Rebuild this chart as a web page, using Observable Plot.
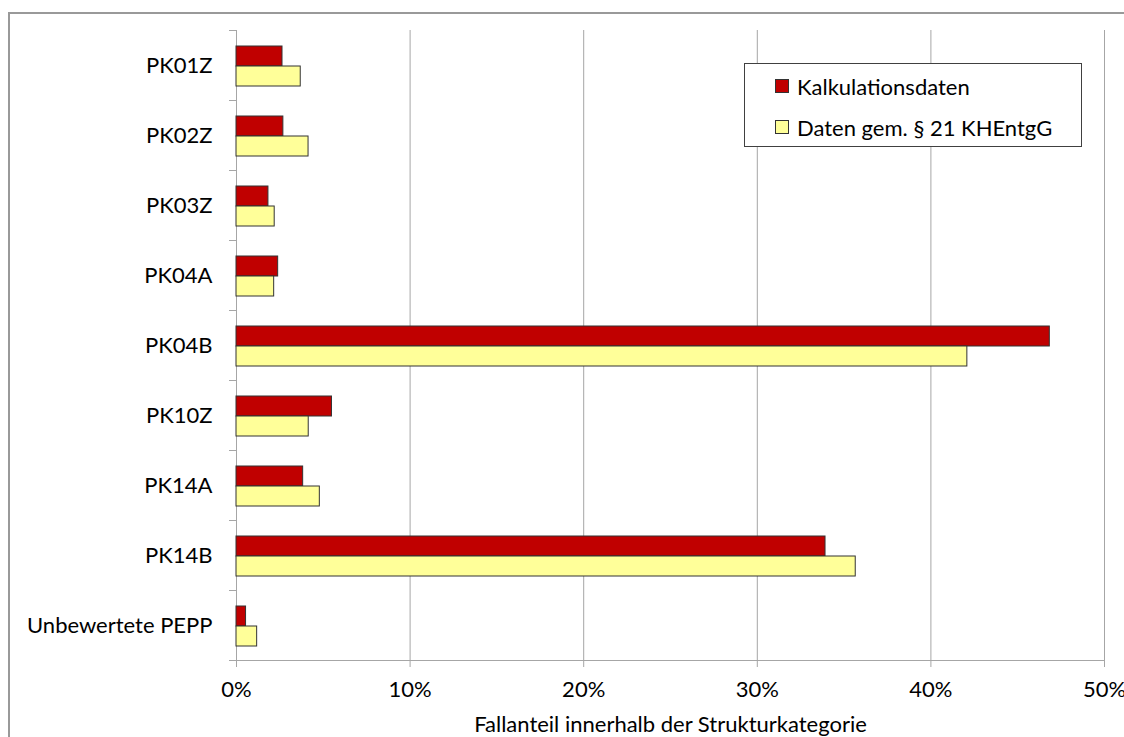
<!DOCTYPE html>
<html>
<head>
<meta charset="utf-8">
<script src="https://cdn.jsdelivr.net/npm/d3@7"></script>
<script src="https://cdn.jsdelivr.net/npm/@observablehq/plot@0.6"></script>
<style>
  html, body { margin: 0; padding: 0; background: #fff; }
  #wrap { position: relative; width: 1124px; height: 737px; overflow: hidden; font-family: Lato, "Open Sans", sans-serif; }
  #border { position: absolute; left: 8px; top: 12px; width: 1140px; height: 760px; border: 2px solid #999; box-sizing: border-box; }
  #chart { position: absolute; left: 0; top: 0; }
  #legend { position: absolute; left: 744px; top: 63px; width: 338px; height: 84px; box-sizing: border-box;
            border: 1px solid #404040; background: #fff; }
  .item { position: absolute; left: 30px; display: flex; align-items: center; height: 22px; font-size: 22px; color: #000; }
  .sw { width: 14px; height: 14px; box-sizing: border-box; border: 1px solid #333; margin-right: 8px; }
</style>
</head>
<body>
<div id="wrap">
  <div id="border"></div>
  <div id="chart"></div>
  <div id="legend"></div>
</div>
<script>
const categories = ["PK01Z", "PK02Z", "PK03Z", "PK04A", "PK04B", "PK10Z", "PK14A", "PK14B", "Unbewertete PEPP"];
const kalkulationsdaten = [2.65, 2.7, 1.84, 2.4, 46.85, 5.5, 3.84, 33.93, 0.55];
const khentggDaten = [3.7, 4.15, 2.2, 2.17, 42.1, 4.16, 4.8, 35.67, 1.19];
const xTicks = [0, 10, 20, 30, 40, 50];
const seriesNames = ["Kalkulationsdaten", "Daten gem. § 21 KHEntgG"];
const seriesColors = ["#C00000", "#FFFF99"];
const axisTitle = "Fallanteil innerhalb der Strukturkategorie";

const rowsA = categories.map((c, i) => ({cat: c, v: kalkulationsdaten[i]}));
const rowsB = categories.map((c, i) => ({cat: c, v: khentggDaten[i]}));

const chart = Plot.plot({
  width: 1124,
  height: 737,
  marginLeft: 236,
  marginRight: 20,
  marginTop: 30,
  marginBottom: 77,
  style: {fontFamily: "Lato, 'Open Sans', sans-serif", fontSize: "22px", background: "transparent", color: "#000"},
  x: {domain: [0, 50]},
  y: {type: "band", domain: categories, padding: 0},
  marks: [
    Plot.gridX(xTicks, {stroke: "#a6a6a6", strokeOpacity: 1, strokeWidth: 1}),
    Plot.frame({anchor: "bottom", stroke: "#a6a6a6"}),
    Plot.barX(rowsA, {x: "v", y: "cat", fill: seriesColors[0], stroke: "#333", strokeWidth: 1, insetTop: 16, insetBottom: 34}),
    Plot.barX(rowsB, {x: "v", y: "cat", fill: seriesColors[1], stroke: "#333", strokeWidth: 1, insetTop: 36, insetBottom: 14}),
    Plot.axisX(xTicks, {tickSize: 7, tickPadding: 14, tickFormat: d => d + "%", label: null, stroke: "#a6a6a6", fill: "#000"}),
    Plot.axisY({tickSize: 0, tickPadding: 24, label: null, fill: "#000"}),
    Plot.axisY({tickSize: 7, tickFormat: () => "", label: null, stroke: "#a6a6a6", dy: -35}),
    Plot.axisY({tickSize: 7, tickFormat: () => "", label: null, stroke: "#a6a6a6", dy: 35}),
    Plot.text([axisTitle], {frameAnchor: "bottom", dy: 64, lineAnchor: "middle", fill: "#000"})
  ]
});
document.getElementById("chart").appendChild(chart);

const legend = document.getElementById("legend");
seriesNames.forEach((name, i) => {
  const item = document.createElement("div");
  item.className = "item";
  item.style.top = (11 + i * 41) + "px";
  const sw = document.createElement("div");
  sw.className = "sw";
  sw.style.background = seriesColors[i];
  const t = document.createElement("span");
  t.textContent = name;
  item.appendChild(sw);
  item.appendChild(t);
  legend.appendChild(item);
});
</script>
</body>
</html>
